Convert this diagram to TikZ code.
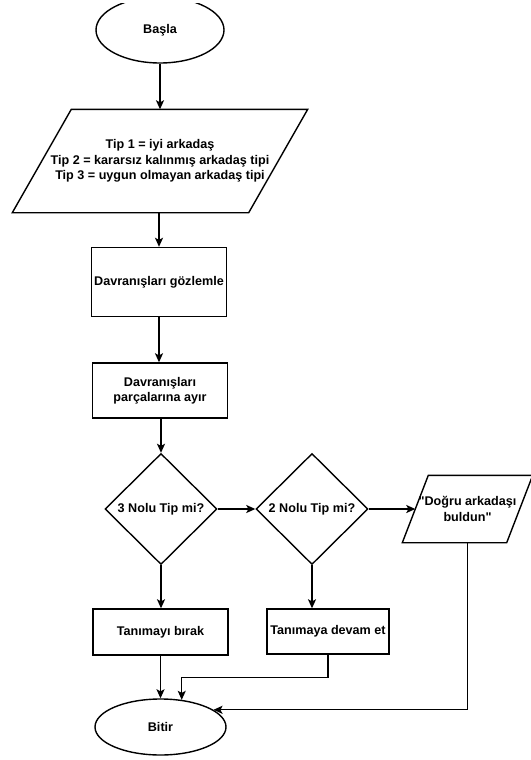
\documentclass[tikz,border=0pt]{standalone}
\usepackage{fontspec}
\setmainfont{Liberation Sans}[Ligatures=TeXOff]
\usetikzlibrary{shapes.geometric,arrows.meta,calc}
\begin{document}
\begin{tikzpicture}[x=1pt,y=-1pt,line width=1.4pt,
  every node/.style={font=\fontsize{12.6}{15.5}\selectfont\bfseries,inner sep=0pt,align=center},
  proc/.style={draw,rectangle,minimum width=135pt},
  term/.style={draw,ellipse},
  dec/.style={draw,diamond,minimum width=112pt,minimum height=111pt},
  iobox/.style={rectangle},
  arr/.style={-{Stealth[length=9pt,width=8pt,inset=2pt]}}]
\useasboundingbox (0,0) rectangle (530,760);
\fill[white] (0,0) rectangle (530,760);

\begin{scope}
\clip (0,4) rectangle (530,760);
\node[term,minimum width=128pt,minimum height=66pt] (start) at (160,30) {Başla};
\end{scope}

\node[iobox,minimum width=235pt,minimum height=102pt] (p1) at (160,161)
  {Tip 1 = iyi arkadaş\\Tip 2 = kararsız kalınmış arkadaş tipi\\Tip 3 = uygun olmayan arkadaş tipi};
\draw ([xshift=29.5pt]p1.north west) -- ([xshift=29.5pt]p1.north east)
  -- ([xshift=-29.5pt]p1.south east) -- ([xshift=-29.5pt]p1.south west) -- cycle;

\node[proc,minimum height=69pt] (b1) at (159,282) {Davranışları gözlemle};
\node[proc,minimum height=55pt] (b2) at (160,390.5) {Davranışları\\parçalarına ayır};

\node[dec] (d1) at (161,509) {3 Nolu Tip mi?};
\node[dec] (d2) at (312,509) {2 Nolu Tip mi?};

\node[iobox,minimum width=103pt,minimum height=66pt] (p2) at (467.5,509)
  {"Doğru arkadaşı\\buldun"};
\draw ([xshift=13pt]p2.north west) -- ([xshift=13pt]p2.north east)
  -- ([xshift=-13pt]p2.south east) -- ([xshift=-13pt]p2.south west) -- cycle;

\node[proc,minimum height=46pt] (t1) at (160.5,632) {Tanımayı bırak};
\node[proc,minimum width=122pt,minimum height=45pt] (t2) at (328,631.5) {Tanımaya devam et};

\node[term,minimum width=131pt,minimum height=56pt] (end) at (160.5,727) {Bitir};

\draw[arr] (start.south) -- (start.south |- p1.north);
\draw[arr] (p1.south -| b1.north) -- (b1.north);
\draw[arr] (b1.south) -- (b2.north -| b1.south);
\draw[arr] (b2.south -| d1.north) -- (d1.north);
\draw[arr] (d1.east) -- (d2.west);
\draw[arr] (d2.east) -- (p2.west);
\draw[arr] (d1.south) -- (d1.south |- t1.north);
\draw[arr] (d2.south) -- (d2.south |- t2.north);
\draw[arr] (t1.south) -- (end.north);
\draw[arr] (t2.south) -- ++(0,23) -| (end.52);
\draw[arr] (p2.south) |- (end.18);
\end{tikzpicture}
\end{document}
